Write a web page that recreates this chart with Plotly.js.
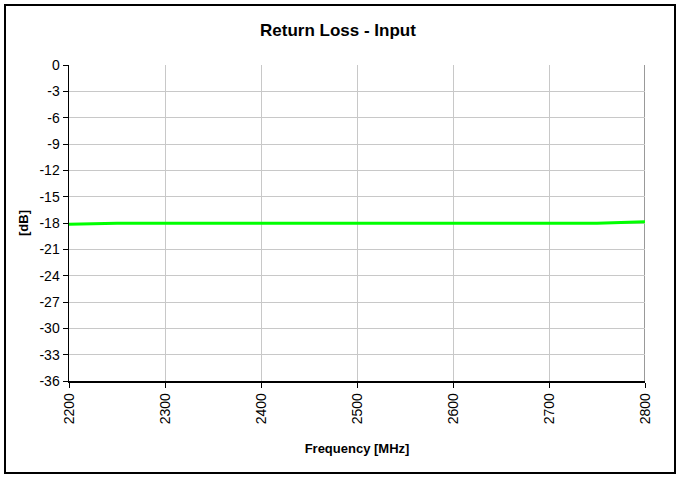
<!DOCTYPE html>
<html>
<head>
<meta charset="utf-8">
<script src="https://cdn.plot.ly/plotly-3.0.1.min.js"></script>
<style>html,body{margin:0;padding:0;background:#fff;}#chart{width:676px;height:477px;}</style>
</head>
<body>
<div id="chart"></div>
<script>
const freqMHz = [2200, 2250, 2300, 2350, 2400, 2450, 2500, 2550, 2600, 2650, 2700, 2750, 2800];
const returnLossDb = [-18.15, -18.02, -18.02, -18.02, -18.02, -18.02, -18.02, -18.02, -18.02, -18.02, -18.02, -18.02, -17.85];
const yTicks = [0, -3, -6, -9, -12, -15, -18, -21, -24, -27, -30, -33, -36];
const xTicks = [2200, 2300, 2400, 2500, 2600, 2700, 2800];

const font = 'Liberation Sans, Arial, sans-serif';
const trace = {
  x: freqMHz, y: returnLossDb, type: 'scatter', mode: 'lines',
  line: {color: '#00FF00', width: 3}, hoverinfo: 'skip', showlegend: false
};
const layout = {
  width: 676, height: 477,
  margin: {l: 69, r: 31, t: 65, b: 96},
  paper_bgcolor: '#ffffff', plot_bgcolor: '#ffffff',
  font: {family: font, color: '#000'},
  title: {text: '<b>Return Loss - Input</b>', font: {family: font, size: 17, color: '#000'}, x: 0.5, xanchor: 'center', y: 1 - 30/477, yanchor: 'middle', yref: 'container'},
  xaxis: {
    range: [2200, 2800], tickvals: xTicks, ticktext: xTicks.map(String),
    tickangle: -90, tickfont: {family: font, size: 14}, ticks: 'outside', ticklen: 5, tickcolor: '#000', tickwidth: 1,
    showgrid: true, gridcolor: '#c8c8c8', gridwidth: 1,
    showline: true, linecolor: '#000', linewidth: 1.5, mirror: false, zeroline: false,
    title: {text: '<b>Frequency [MHz]</b>', font: {family: font, size: 13}, standoff: 20}
  },
  yaxis: {
    range: [-36, 0], tickvals: yTicks, ticktext: yTicks.map(String),
    tickfont: {family: font, size: 14}, ticks: 'outside', ticklen: 5, tickcolor: '#000', tickwidth: 1,
    showgrid: true, gridcolor: '#c8c8c8', gridwidth: 1,
    showline: true, linecolor: '#000', linewidth: 1.5, zeroline: false,
    title: {text: '<b>[dB]</b>', font: {family: font, size: 13}, standoff: 8}
  },
  shapes: [
    {type: 'line', xref: 'x', yref: 'paper', x0: 2800, x1: 2800, y0: 0, y1: 1, line: {color: '#999', width: 2}, layer: 'below'},
    {type: 'rect', xref: 'paper', yref: 'paper',
     x0: -64/576, x1: 606/576, y0: -92/316, y1: 1 + 60/316,
     line: {color: '#000', width: 2}, fillcolor: 'rgba(0,0,0,0)'}
  ]
};
Plotly.newPlot('chart', [trace], layout, {displayModeBar: false, staticPlot: true});
</script>
</body>
</html>
